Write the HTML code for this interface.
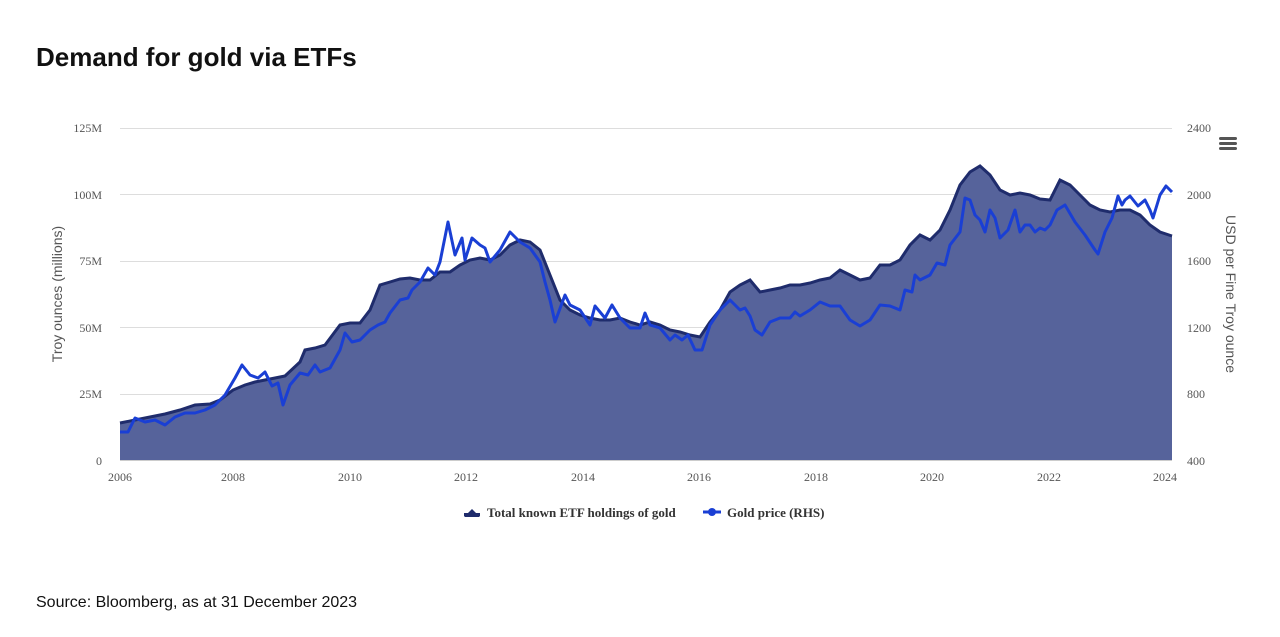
<!DOCTYPE html>
<html><head><meta charset="utf-8"><style>
body{margin:0;background:#fff;width:1280px;height:632px;overflow:hidden;font-family:"Liberation Sans",sans-serif}
</style></head><body>
<svg width="1280" height="632" xmlns="http://www.w3.org/2000/svg">
<text x="36" y="66" font-family="Liberation Sans, sans-serif" font-weight="bold" font-size="26" fill="#111">Demand for gold via ETFs</text>
<g stroke="#ddd" stroke-width="1">
<line x1="120" x2="1172" y1="128.5" y2="128.5"/><line x1="120" x2="1172" y1="194.5" y2="194.5"/>
<line x1="120" x2="1172" y1="261.5" y2="261.5"/><line x1="120" x2="1172" y1="327.5" y2="327.5"/>
<line x1="120" x2="1172" y1="394.5" y2="394.5"/><line x1="120" x2="1172" y1="460.5" y2="460.5" stroke="#ccc"/>
</g>
<g font-family="Liberation Serif, serif" font-size="12" fill="#555" text-anchor="end">
<text x="102" y="132">125M</text><text x="102" y="199">100M</text><text x="102" y="265">75M</text>
<text x="102" y="332">50M</text><text x="102" y="398">25M</text><text x="102" y="465">0</text>
</g>
<g font-family="Liberation Serif, serif" font-size="12" fill="#555" text-anchor="start">
<text x="1187" y="132">2400</text><text x="1187" y="199">2000</text><text x="1187" y="265">1600</text>
<text x="1187" y="332">1200</text><text x="1187" y="398">800</text><text x="1187" y="465">400</text>
</g>
<g font-family="Liberation Serif, serif" font-size="12" fill="#555" text-anchor="middle">
<text x="120" y="481">2006</text><text x="233" y="481">2008</text><text x="350" y="481">2010</text><text x="466" y="481">2012</text><text x="583" y="481">2014</text><text x="699" y="481">2016</text><text x="816" y="481">2018</text><text x="932" y="481">2020</text><text x="1049" y="481">2022</text><text x="1165" y="481">2024</text>
</g>
<text transform="translate(62,294) rotate(-90)" text-anchor="middle" font-size="14" fill="#555">Troy ounces (millions)</text>
<text transform="translate(1226,294) rotate(90)" text-anchor="middle" font-size="14" fill="#555">USD per Fine Troy ounce</text>
<g fill="#555"><rect x="1219" y="137" width="18" height="3" rx="1.5"/><rect x="1219" y="142" width="18" height="3" rx="1.5"/><rect x="1219" y="147" width="18" height="3" rx="1.5"/></g>
<path id="etf" d="M120,423 L135,420 L150,417 L165,414 L180,410 L195,405 L210,404 L220,400 L233,390 L245,385 L255,382 L265,380 L275,378 L285,376 L300,362 L305,350 L315,348 L325,345 L340,325 L350,323 L360,323 L370,310 L380,285 L390,282 L400,279 L410,278 L420,280 L430,280 L440,272 L450,272 L460,265 L470,260 L480,258 L490,260 L500,255 L510,245 L520,240 L530,242 L540,250 L550,275 L560,300 L570,310 L580,315 L590,318 L600,320 L610,320 L620,318 L630,322 L640,325 L650,322 L660,325 L670,330 L680,332 L690,335 L700,337 L710,322 L720,310 L730,292 L740,285 L750,280 L760,292 L770,290 L780,288 L790,285 L800,285 L810,283 L820,280 L830,278 L840,270 L850,275 L860,280 L870,278 L880,265 L890,265 L900,260 L910,245 L920,235 L930,240 L940,230 L950,210 L960,185 L970,172 L980,166 L990,175 L1000,190 L1010,195 L1020,193 L1030,195 L1040,199 L1050,200 L1060,180 L1070,185 L1080,195 L1090,205 L1100,210 L1110,212 L1120,210 L1130,210 L1140,215 L1150,225 L1160,232 L1172,236" fill="none"/>
<path d="M120,460 L120,423 L135,420 L150,417 L165,414 L180,410 L195,405 L210,404 L220,400 L233,390 L245,385 L255,382 L265,380 L275,378 L285,376 L300,362 L305,350 L315,348 L325,345 L340,325 L350,323 L360,323 L370,310 L380,285 L390,282 L400,279 L410,278 L420,280 L430,280 L440,272 L450,272 L460,265 L470,260 L480,258 L490,260 L500,255 L510,245 L520,240 L530,242 L540,250 L550,275 L560,300 L570,310 L580,315 L590,318 L600,320 L610,320 L620,318 L630,322 L640,325 L650,322 L660,325 L670,330 L680,332 L690,335 L700,337 L710,322 L720,310 L730,292 L740,285 L750,280 L760,292 L770,290 L780,288 L790,285 L800,285 L810,283 L820,280 L830,278 L840,270 L850,275 L860,280 L870,278 L880,265 L890,265 L900,260 L910,245 L920,235 L930,240 L940,230 L950,210 L960,185 L970,172 L980,166 L990,175 L1000,190 L1010,195 L1020,193 L1030,195 L1040,199 L1050,200 L1060,180 L1070,185 L1080,195 L1090,205 L1100,210 L1110,212 L1120,210 L1130,210 L1140,215 L1150,225 L1160,232 L1172,236 L1172,460 Z" fill="#56639b"/>
<use href="#etf" stroke="#1f2c6c" stroke-width="3"/>
<path d="M120,432 L128,432 L135,418 L145,422 L155,420 L165,425 L175,417 L185,413 L195,413 L205,410 L215,405 L225,395 L235,378 L242,365 L250,375 L258,378 L265,372 L272,386 L278,383 L283,405 L290,385 L300,373 L308,375 L315,365 L320,372 L330,368 L340,350 L345,333 L352,342 L360,340 L370,330 L378,325 L385,322 L390,313 L400,300 L408,298 L412,290 L420,282 L428,268 L435,275 L440,262 L448,222 L455,255 L462,238 L465,260 L472,238 L480,245 L485,248 L490,262 L500,250 L510,232 L520,242 L530,248 L540,262 L545,282 L550,300 L555,322 L565,295 L570,305 L580,310 L590,325 L595,306 L600,312 L605,318 L612,305 L620,318 L630,328 L640,328 L645,313 L650,325 L660,328 L670,340 L675,335 L682,340 L688,335 L695,350 L702,350 L710,325 L720,310 L730,300 L735,305 L740,310 L745,308 L750,316 L755,330 L762,335 L770,322 L780,318 L790,318 L795,312 L800,316 L810,310 L820,302 L830,306 L840,306 L850,320 L860,326 L870,320 L880,305 L890,306 L900,310 L905,290 L912,292 L915,275 L920,280 L930,275 L937,263 L945,265 L950,245 L960,232 L965,198 L970,200 L975,215 L980,220 L985,232 L990,210 L995,218 L1000,238 L1008,230 L1015,210 L1020,232 L1025,225 L1030,225 L1035,232 L1040,228 L1045,230 L1050,225 L1057,210 L1065,205 L1075,222 L1085,235 L1095,250 L1098,254 L1105,232 L1112,218 L1118,196 L1122,205 L1125,200 L1130,196 L1138,206 L1145,200 L1150,210 L1153,218 L1160,195 L1166,186 L1172,192" fill="none" stroke="#1a3fd4" stroke-width="3" stroke-linejoin="round"/>
<g font-family="Liberation Serif, serif" font-size="13" font-weight="bold" fill="#333">
<path d="M464,517 L472,509 L480,517 Z" fill="#1f2c6c"/><rect x="464" y="513" width="16" height="3" fill="#1f2c6c"/>
<text x="487" y="517">Total known ETF holdings of gold</text>
<line x1="703" x2="721" y1="512" y2="512" stroke="#1a3fd4" stroke-width="3"/><circle cx="712" cy="512" r="4" fill="#1a3fd4"/>
<text x="727" y="517">Gold price (RHS)</text>
</g>
<text x="36" y="607" font-size="16" fill="#111">Source: Bloomberg, as at 31 December 2023</text>
</svg>
</body></html>
